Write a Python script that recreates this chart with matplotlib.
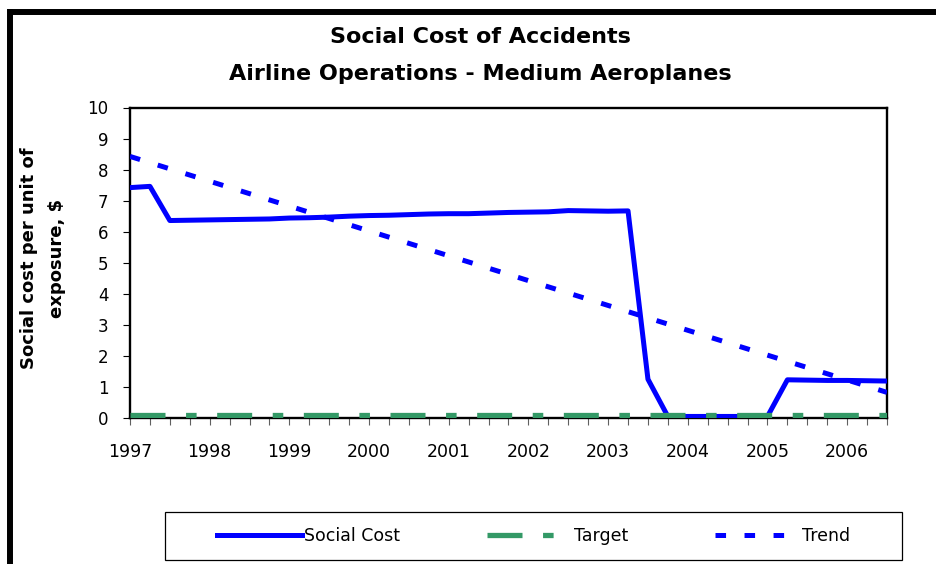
import numpy as np
import matplotlib.pyplot as plt
from matplotlib.lines import Line2D
from matplotlib.patches import Rectangle

plt.rcParams['font.family'] = ['DejaVu Sans']
plt.rcParams['lines.scale_dashes'] = False

# quarterly series, 1997 Q1 to 2006 Q3
years = ['1997', '1998', '1999', '2000', '2001', '2002', '2003', '2004', '2005', '2006']
social_cost = [7.42, 7.46, 6.36, 6.37, 6.38, 6.39, 6.40, 6.41,
               6.44, 6.45, 6.47, 6.50, 6.52, 6.53, 6.55, 6.57,
               6.58, 6.58, 6.60, 6.62, 6.63, 6.64, 6.68, 6.67,
               6.66, 6.67, 1.25, 0.05, 0.05, 0.05, 0.05, 0.05,
               0.05, 1.23, 1.22, 1.21, 1.21, 1.20, 1.19]
target_value = 0.1

W, H = 937, 564
fig = plt.figure(figsize=(W / 100, H / 100), dpi=100)

x = np.arange(len(social_cost))
target = np.full(len(x), target_value)
slope, intercept = np.polyfit(x, social_cost, 1)
trend = intercept + slope * x

ax = fig.add_axes([130 / W, 1 - 418 / H, 757 / W, (418 - 107.5) / H])
ax.plot(x, social_cost, color='#0000FF', lw=3.6, label='Social Cost', zorder=3)
ax.plot(x, target, color='#339966', lw=3.8, dashes=(25.2, 14.8, 7.6, 14.8),
        dash_capstyle='butt', label='Target', zorder=4)
ax.plot(x, trend, color='#0000FF', lw=3.6, dashes=(7.6, 13.3),
        dash_capstyle='butt', label='Trend', zorder=5)

ax.set_xlim(0, len(x) - 1)
ax.set_ylim(0, 10)
ax.set_yticks(range(0, 11))
ax.set_xticks(x)
ax.set_xticklabels([years[i // 4] if i % 4 == 0 else '' for i in x])
for sp in ax.spines.values():
    sp.set_linewidth(1.7)
    sp.set_color('black')
ax.tick_params(axis='y', direction='out', length=5, width=0.8, pad=10.5,
               labelsize=12, color='black')
ax.tick_params(axis='x', direction='out', length=5, width=0.8, pad=13,
               labelsize=12.5, color='#606060')

# titles
fig.text(480 / W, 1 - 43.3 / H, 'Social Cost of Accidents', ha='center',
         va='baseline', fontsize=16, fontweight='bold')
fig.text(480 / W, 1 - 80 / H, 'Airline Operations - Medium Aeroplanes', ha='center',
         va='baseline', fontsize=16, fontweight='bold')
fig.text(43 / W, 1 - 258 / H, 'Social cost per unit of\nexposure, $', rotation=90,
         ha='center', va='center', multialignment='center', fontsize=13,
         fontweight='bold', linespacing=1.7)

# outer chart border
fig.add_artist(Line2D([10.5 / W, 10.5 / W], [0, 1 - 9 / H], color='black', lw=4.3,
                      transform=fig.transFigure, solid_capstyle='butt'))
fig.add_artist(Line2D([8 / W, 1], [1 - 12 / H, 1 - 12 / H], color='black', lw=4.3,
                      transform=fig.transFigure, solid_capstyle='butt'))

# legend frame and entries
fig.add_artist(Rectangle((165 / W, 1 - 560 / H), (902 - 165) / W, 48 / H,
                         transform=fig.transFigure, fill=False, edgecolor='black', lw=0.9))
fig.legend(loc='center', bbox_to_anchor=(533.5 / W, 1 - 536 / H), ncol=3,
           frameon=False, fontsize=12.5, handlelength=4.9, handletextpad=0.1,
           columnspacing=5.0)

fig.savefig('out.png', dpi=100)
